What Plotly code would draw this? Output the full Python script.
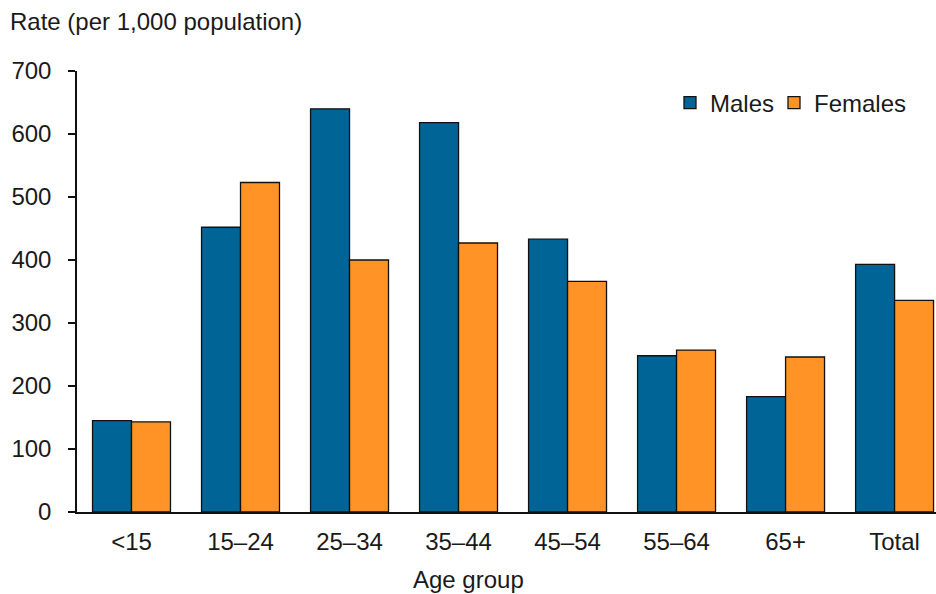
import plotly.graph_objects as go

categories = ["<15", "15–24", "25–34", "35–44", "45–54", "55–64", "65+", "Total"]
males = [145, 452, 640, 618, 433, 248, 183, 393]
females = [143, 523, 400, 427, 366, 257, 246, 336]
y_ticks = [0, 100, 200, 300, 400, 500, 600, 700]

FONT = "Liberation Sans, Arial, sans-serif"
TXT = "#1a1a1a"
FS = 24

W, H = 936, 594
PL, PT, PR, PB = 77, 71, 936, 512  # plot area in pixels
PW, PH = PR - PL, PB - PT

fig = go.Figure()
fig.add_trace(go.Bar(x=categories, y=males, name="Males", legend="legend",
                     marker=dict(color="#006496", line=dict(color="#111111", width=1.3))))
fig.add_trace(go.Bar(x=categories, y=females, name="Females", legend="legend2",
                     marker=dict(color="#FF9326", line=dict(color="#111111", width=1.3))))

leg_common = dict(orientation="h", xanchor="right", y=(PB - 103) / PH, yanchor="middle",
                  font=dict(size=FS, color=TXT), itemwidth=30, bgcolor="rgba(0,0,0,0)")

fig.update_layout(
    width=W, height=H,
    margin=dict(l=PL, r=W - PR, t=PT, b=H - PB, autoexpand=False),
    paper_bgcolor="white", plot_bgcolor="white",
    barmode="group", bargap=0.285, bargroupgap=0,
    font=dict(family=FONT, size=FS, color=TXT),
    showlegend=True,
    legend=dict(x=(780 - PL) / PW, **leg_common),
    legend2=dict(x=(912 - PL) / PW, **leg_common),
    xaxis=dict(type="category", range=[-0.5, 7.38], showline=True, linecolor="#111111",
               linewidth=1.5, ticks="", showgrid=False, ticklabelstandoff=7,
               tickfont=dict(size=FS, color=TXT)),
    yaxis=dict(range=[0, 700], tickvals=y_ticks, showline=True, linecolor="#111111",
               linewidth=1.5, ticks="outside", ticklen=7, tickwidth=1.5, tickcolor="#111111",
               showgrid=False, zeroline=False, ticklabelstandoff=12,
               tickfont=dict(size=FS, color=TXT)),
    annotations=[
        dict(text="Rate (per 1,000 population)", xref="paper", yref="paper",
             x=(8 - PL) / PW, y=1 + (PT - 22) / PH, xanchor="left", yanchor="middle",
             showarrow=False, font=dict(size=FS, color=TXT)),
        dict(text="Age group", xref="paper", yref="paper",
             x=(468 - PL) / PW, y=-(579 - PB) / PH, xanchor="center", yanchor="middle",
             showarrow=False, font=dict(size=FS, color=TXT)),
    ],
)

fig.write_html("out.html",
               config={"displayModeBar": False},
               post_script="document.body.style.margin='0';document.body.style.overflow='hidden';")
